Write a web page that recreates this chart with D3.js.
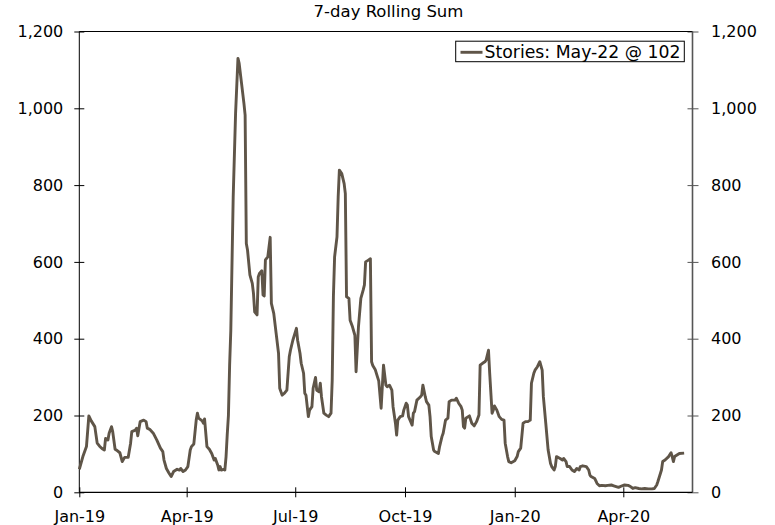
<!DOCTYPE html>
<html>
<head>
<meta charset="utf-8">
<script src="https://cdn.jsdelivr.net/npm/d3@7"></script>
<style>
  html, body { margin: 0; padding: 0; background: #ffffff; }
  svg { display: block; }
  text { font-family: "DejaVu Sans", Verdana, sans-serif; fill: #000; }
</style>
</head>
<body>
<svg id="chart" width="775" height="525"></svg>
<script>
// 7-day rolling sum of stories, daily observations
const dates = [
  "2019-01-01","2019-01-04","2019-01-07","2019-01-09","2019-01-11","2019-01-14","2019-01-16","2019-01-18","2019-01-20","2019-01-22",
  "2019-01-23","2019-01-25","2019-01-26","2019-01-28","2019-01-29","2019-01-31","2019-02-02","2019-02-04","2019-02-06","2019-02-08",
  "2019-02-11","2019-02-13","2019-02-14","2019-02-17","2019-02-18","2019-02-19","2019-02-21","2019-02-24","2019-02-26","2019-02-27",
  "2019-03-01","2019-03-04","2019-03-07","2019-03-10","2019-03-12","2019-03-13","2019-03-15","2019-03-17","2019-03-19","2019-03-21",
  "2019-03-24","2019-03-26","2019-03-27","2019-03-29","2019-03-31","2019-04-02","2019-04-04","2019-04-05","2019-04-07","2019-04-09",
  "2019-04-10","2019-04-11","2019-04-14","2019-04-15","2019-04-16","2019-04-18","2019-04-20","2019-04-22","2019-04-24","2019-04-25",
  "2019-04-27","2019-04-28","2019-04-29","2019-04-30","2019-05-02","2019-05-03","2019-05-04","2019-05-05","2019-05-06","2019-05-07",
  "2019-05-08","2019-05-10","2019-05-12","2019-05-14","2019-05-15","2019-05-17","2019-05-19","2019-05-20","2019-05-21","2019-05-22",
  "2019-05-24","2019-05-26","2019-05-27","2019-05-28","2019-05-30","2019-05-31","2019-06-01","2019-06-03","2019-06-04","2019-06-05",
  "2019-06-06","2019-06-08","2019-06-10","2019-06-11","2019-06-13","2019-06-15","2019-06-17","2019-06-18","2019-06-20","2019-06-22",
  "2019-06-24","2019-06-26","2019-06-27","2019-06-29","2019-07-02","2019-07-03","2019-07-05","2019-07-06","2019-07-08","2019-07-09",
  "2019-07-10","2019-07-12","2019-07-13","2019-07-15","2019-07-16","2019-07-18","2019-07-19","2019-07-21","2019-07-22","2019-07-23",
  "2019-07-25","2019-07-27","2019-07-29","2019-07-31","2019-08-01","2019-08-02","2019-08-03","2019-08-05","2019-08-06","2019-08-07",
  "2019-08-09","2019-08-11","2019-08-12","2019-08-13","2019-08-15","2019-08-16","2019-08-18","2019-08-20","2019-08-21","2019-08-23",
  "2019-08-25","2019-08-27","2019-08-28","2019-08-29","2019-08-31","2019-09-02","2019-09-03","2019-09-04","2019-09-06","2019-09-08",
  "2019-09-09","2019-09-11","2019-09-13","2019-09-15","2019-09-16","2019-09-18","2019-09-20","2019-09-21","2019-09-23","2019-09-24",
  "2019-09-25","2019-09-27","2019-09-29","2019-09-30","2019-10-02","2019-10-03","2019-10-04","2019-10-07","2019-10-08","2019-10-09",
  "2019-10-11","2019-10-14","2019-10-15","2019-10-16","2019-10-18","2019-10-19","2019-10-21","2019-10-22","2019-10-23","2019-10-25",
  "2019-10-26","2019-10-29","2019-10-30","2019-11-01","2019-11-02","2019-11-03","2019-11-04","2019-11-06","2019-11-07","2019-11-09",
  "2019-11-12","2019-11-13","2019-11-15","2019-11-17","2019-11-18","2019-11-19","2019-11-20","2019-11-21","2019-11-23","2019-11-24",
  "2019-11-26","2019-11-28","2019-11-30","2019-12-02","2019-12-03","2019-12-05","2019-12-07","2019-12-08","2019-12-10","2019-12-11",
  "2019-12-13","2019-12-14","2019-12-15","2019-12-17","2019-12-19","2019-12-21","2019-12-23","2019-12-24","2019-12-26","2019-12-27",
  "2019-12-29","2020-01-01","2020-01-03","2020-01-04","2020-01-06","2020-01-08","2020-01-10","2020-01-12","2020-01-14","2020-01-15",
  "2020-01-17","2020-01-18","2020-01-20","2020-01-22","2020-01-24","2020-01-25","2020-01-27","2020-01-29","2020-01-31","2020-02-01",
  "2020-02-03","2020-02-04","2020-02-05","2020-02-08","2020-02-10","2020-02-11","2020-02-13","2020-02-14","2020-02-16","2020-02-18",
  "2020-02-20","2020-02-22","2020-02-24","2020-02-25","2020-02-27","2020-03-01","2020-03-03","2020-03-04","2020-03-05","2020-03-08",
  "2020-03-10","2020-03-12","2020-03-14","2020-03-17","2020-03-19","2020-03-22","2020-03-24","2020-03-26","2020-03-28","2020-03-31",
  "2020-04-02","2020-04-05","2020-04-07","2020-04-09","2020-04-11","2020-04-14","2020-04-16","2020-04-19","2020-04-22","2020-04-25",
  "2020-04-27","2020-04-29","2020-04-30","2020-05-03","2020-05-04","2020-05-06","2020-05-09","2020-05-11","2020-05-12","2020-05-13",
  "2020-05-14","2020-05-16","2020-05-18","2020-05-22"
];

const stories = [
  60, 93, 119, 199, 186, 171, 128, 120, 114, 110,
  140, 136, 154, 171, 158, 112, 108, 103, 80, 91,
  91, 128, 158, 162, 167, 147, 184, 188, 184, 167,
  164, 154, 136, 115, 106, 84, 62, 51, 41, 54,
  60, 58, 62, 54, 58, 67, 110, 119, 126, 188,
  206, 193, 186, 180, 191, 119, 112, 101, 84, 88,
  71, 58, 67, 58, 60, 58, 92, 150, 200, 330,
  422, 769, 987, 1130, 1117, 1065, 1013, 982, 648, 631,
  566, 544, 518, 470, 462, 561, 570, 577, 514, 511,
  605, 613, 664, 492, 466, 414, 362, 271, 253, 258,
  266, 353, 370, 396, 427, 396, 362, 336, 310, 258,
  253, 197, 214, 223, 271, 299, 266, 262, 284, 249,
  206, 201, 197, 206, 292, 509, 613, 665, 769, 839,
  830, 804, 778, 509, 505, 448, 431, 409, 314, 431,
  505, 527, 540, 600, 604, 608, 340, 330, 320, 300,
  290, 219, 331, 279, 275, 279, 266, 223, 180, 149,
  188, 197, 199, 214, 232, 227, 197, 175, 206, 210,
  240, 249, 253, 279, 249, 236, 227, 197, 145, 110,
  106, 101, 119, 145, 154, 171, 188, 193, 236, 240,
  240, 245, 232, 223, 214, 171, 167, 193, 197, 199,
  180, 173, 184, 201, 331, 336, 340, 344, 370, 310,
  206, 214, 225, 214, 197, 190, 188, 128, 93, 80,
  77, 82, 93, 106, 115, 180, 184, 184, 188, 284,
  310, 318, 327, 340, 318, 249, 180, 110, 75, 67,
  58, 67, 93, 88, 84, 88, 80, 67, 67, 58,
  54, 62, 58, 67, 69, 67, 58, 45, 41, 36,
  23, 17, 18, 17, 18, 19, 17, 15, 13, 17,
  19, 18, 15, 10, 12, 10, 9, 10, 9, 9,
  10, 19, 28, 58, 80, 84, 93, 103, 93, 80,
  93, 97, 101, 102
];

const xTickDates = ["2019-01-01","2019-04-01","2019-07-01","2019-10-01","2020-01-01","2020-04-01"];
const yTickValues = [0, 200, 400, 600, 800, 1000, 1200];
const seriesName = "Stories";
const chartTitle = "7-day Rolling Sum";

(function drawChart() {
  const parse = d3.timeParse("%Y-%m-%d");
  const data = dates.map((d, i) => ({ date: parse(d), value: stories[i] }));

  const svg = d3.select("#chart");
  const plotLeft = 79.3, plotRight = 692.5, plotTop = 31.5, plotBottom = 492.3;
  const lineColor = "#5f5548";

  const x = d3.scaleTime()
    .domain([parse("2019-01-01"), parse("2020-05-29")])
    .range([plotLeft, plotRight]);

  const y = d3.scaleLinear()
    .domain([0, 1200])
    .range([plotBottom, plotTop]);

  // Title
  svg.append("text")
    .attr("x", 388.5)
    .attr("y", 17)
    .attr("text-anchor", "middle")
    .style("font-size", "16.5px")
    .text(chartTitle);

  // Axes
  const fmtY = d3.format(",");
  const yLeft = d3.axisLeft(y).tickValues(yTickValues).tickFormat(fmtY)
    .tickSizeInner(5).tickSizeOuter(0).tickPadding(11);
  const yRight = d3.axisRight(y).tickValues(yTickValues).tickFormat(fmtY)
    .tickSizeInner(6).tickSizeOuter(0).tickPadding(12.5);
  const xAxis = d3.axisBottom(x).tickValues(xTickDates.map(parse))
    .tickFormat(d3.timeFormat("%b-%y"))
    .tickSizeInner(5).tickSizeOuter(0).tickPadding(13);

  const gL = svg.append("g").attr("transform", `translate(${plotLeft},0)`).call(yLeft);
  const gR = svg.append("g").attr("transform", `translate(${plotRight},0)`).call(yRight);
  const gX = svg.append("g").attr("transform", `translate(0,${plotBottom})`).call(xAxis);

  [gL, gR, gX].forEach(g => {
    g.select(".domain").remove();
    g.attr("font-family", null).attr("font-size", null);
    g.selectAll("text").style("font-size", "16px");
  });
  // ticks cross the axis lines
  gL.selectAll(".tick line").attr("x1", 5).attr("stroke", "#000");
  gR.selectAll(".tick line").attr("x1", -5).attr("stroke", "#555");
  gX.selectAll(".tick line").attr("y1", -5).attr("stroke", "#000");

  // Plot frame
  svg.append("line").attr("x1", plotLeft).attr("x2", plotRight).attr("y1", plotTop).attr("y2", plotTop)
    .attr("stroke", "#000").attr("stroke-width", 1);
  svg.append("line").attr("x1", plotLeft).attr("x2", plotLeft).attr("y1", plotTop).attr("y2", plotBottom)
    .attr("stroke", "#000").attr("stroke-width", 1);
  svg.append("line").attr("x1", plotRight).attr("x2", plotRight).attr("y1", plotTop).attr("y2", plotBottom)
    .attr("stroke", "#555").attr("stroke-width", 1.6);
  svg.append("line").attr("x1", plotLeft).attr("x2", plotRight).attr("y1", plotBottom).attr("y2", plotBottom)
    .attr("stroke", "#000").attr("stroke-width", 1.2);

  // Series line
  const line = d3.line().x(d => x(d.date)).y(d => y(d.value));
  svg.append("path")
    .datum(data)
    .attr("fill", "none")
    .attr("stroke", lineColor)
    .attr("stroke-width", 2.9)
    .attr("stroke-linejoin", "round")
    .attr("d", line);

  // Legend
  const last = data[data.length - 1];
  const legend = svg.append("g");
  legend.append("rect")
    .attr("x", 455.7).attr("y", 41.2)
    .attr("width", 228.6).attr("height", 20.5)
    .attr("fill", "#fff").attr("stroke", "#000").attr("stroke-width", 1);
  legend.append("line")
    .attr("x1", 460.5).attr("x2", 482.5).attr("y1", 52.3).attr("y2", 52.3)
    .attr("stroke", lineColor).attr("stroke-width", 2.9);
  legend.append("text")
    .attr("x", 484.5).attr("y", 57.5)
    .attr("textLength", 196)
    .attr("lengthAdjust", "spacingAndGlyphs")
    .style("font-size", "16.8px")
    .text(`${seriesName}: ${d3.timeFormat("%b-%d")(last.date)} @ ${last.value}`);
})();
</script>
</body>
</html>
